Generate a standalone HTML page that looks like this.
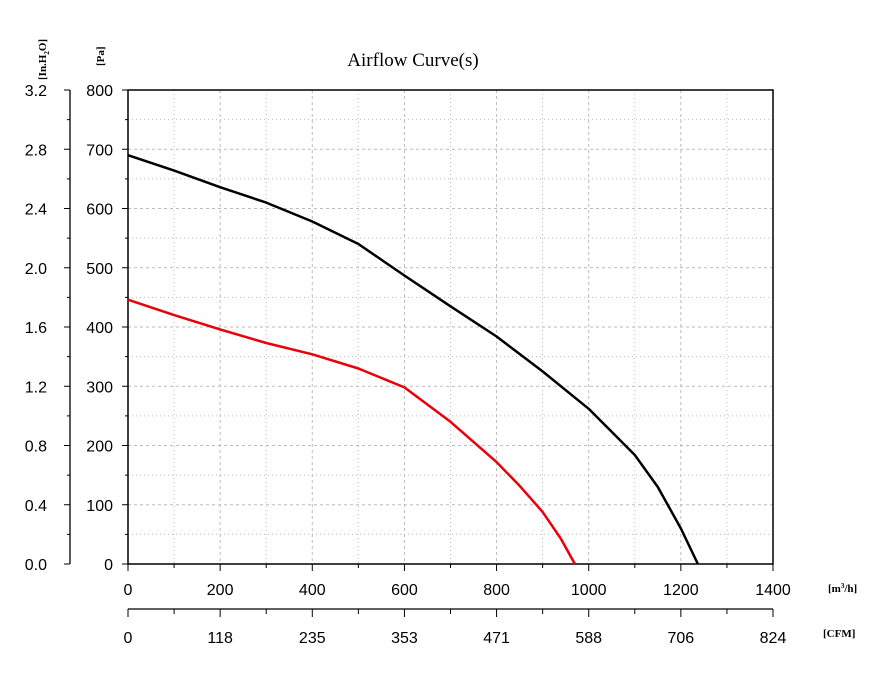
<!DOCTYPE html>
<html><head><meta charset="utf-8"><style>
body{margin:0;background:#fff;}
svg text{font-family:"Liberation Sans",sans-serif;}
</style></head><body>
<svg id="chart" width="888" height="694" xmlns="http://www.w3.org/2000/svg">
<text x="413" y="66" text-anchor="middle" font-size="19" style="font-family:'Liberation Serif',serif">Airflow Curve(s)</text>
<g id="grid"></g>
<g id="axes"></g>
<g id="series"></g>
</svg>
<script>
const xTicks=[0,200,400,600,800,1000,1200,1400];
const cfmLabels=["0","118","235","353","471","588","706","824"];
const paTicks=[0,100,200,300,400,500,600,700,800];
const inLabels=["0.0","0.4","0.8","1.2","1.6","2.0","2.4","2.8","3.2"];
const blackX=[0,100,200,300,400,500,600,700,800,900,1000,1100,1150,1200,1237];
const blackY=[690,664,636,610,578,540,487,435,384,325,262,184,130,60,0];
const redX=[0,100,200,300,400,500,600,700,800,850,900,940,970];
const redY=[446,420,396,373,354,330,298,240,172,132,88,42,0];
const L=128,R=773,T=90,B=564;
const sx=v=>L+(v/1400)*(R-L), sy=v=>B-(v/800)*(B-T);
const NS="http://www.w3.org/2000/svg";
function mk(tag,attrs,parent){const e=document.createElementNS(NS,tag);for(const k in attrs)e.setAttribute(k,attrs[k]);parent.appendChild(e);return e;}
const grid=document.getElementById('grid'),axes=document.getElementById('axes'),series=document.getElementById('series');
for(let v=100;v<1400;v+=100){const g=mk('line',{x1:sx(v),x2:sx(v),y1:T,y2:B,stroke:'#bbb','stroke-width':1,'stroke-dasharray':v%200?'1,3':'3,3'},grid);

}
for(let v=50;v<800;v+=50){const g=mk('line',{x1:L,x2:R,y1:sy(v),y2:sy(v),stroke:'#bbb','stroke-width':1,'stroke-dasharray':v%100?'1,3':'3,3'},grid);

}
const fr=mk('rect',{x:L,y:T,width:R-L,height:B-T,fill:'none',stroke:'#000','stroke-width':1.5},axes);


// left inH2O axis
mk('line',{x1:70,x2:70,y1:T,y2:B,stroke:'#000','stroke-width':1.3},axes);
for(let i=0;i<paTicks.length;i++){const y=sy(paTicks[i]);
mk('line',{x1:64,x2:70,y1:y,y2:y,stroke:'#000'},axes);
mk('line',{x1:122,x2:128,y1:y,y2:y,stroke:'#000'},axes);
if(i<paTicks.length-1){const ym=sy(paTicks[i]+50);mk('line',{x1:67,x2:70,y1:ym,y2:ym,stroke:'#000'},axes);mk('line',{x1:125,x2:128,y1:ym,y2:ym,stroke:'#000'},axes);}
const t1=mk('text',{x:47,y:y+6,'text-anchor':'end','font-size':16},axes);t1.textContent=inLabels[i];


const t2=mk('text',{x:113,y:y+6,'text-anchor':'end','font-size':16},axes);t2.textContent=paTicks[i];

}
// bottom axes
const B2=609;
mk('line',{x1:L,x2:R,y1:B2,y2:B2,stroke:'#000','stroke-width':1.3},axes);
for(let i=0;i<xTicks.length;i++){const x=sx(xTicks[i]);
mk('line',{x1:x,x2:x,y1:B,y2:B+7,stroke:'#000'},axes);
mk('line',{x1:x,x2:x,y1:B2,y2:B2+8,stroke:'#000'},axes);
if(i<xTicks.length-1){const xm=sx(xTicks[i]+100);mk('line',{x1:xm,x2:xm,y1:B,y2:B+4,stroke:'#000'},axes);mk('line',{x1:xm,x2:xm,y1:B2,y2:B2+5,stroke:'#000'},axes);}
const t1=mk('text',{x:x,y:B+31,'text-anchor':'middle','font-size':16},axes);t1.textContent=xTicks[i];


const t2=mk('text',{x:x,y:B2+34,'text-anchor':'middle','font-size':16},axes);t2.textContent=cfmLabels[i];

}
function unit(txt,x,y,rot,name){const t=mk('text',{x:x,y:y,'font-size':11,'font-weight':'bold',style:"font-family:'Liberation Serif',serif",transform:rot?`rotate(-90 ${x} ${y})`:''},axes);t.innerHTML=txt;

}
unit('[m<tspan font-size="7" dy="-4">3</tspan><tspan dy="4">/h]</tspan>',828,592,false,'m3h-unit');
unit('[CFM]',823,637,false,'cfm-unit');
unit('[Pa]',104,66,true,'pa-unit');
unit('[In.H<tspan font-size="7" dy="3">2</tspan><tspan dy="-3">O]</tspan>',46,80,true,'inh2o-unit');
function path(xs,ys,col,name){let d='';for(let i=0;i<xs.length;i++)d+=(i?'L':'M')+sx(xs[i]).toFixed(1)+','+sy(ys[i]).toFixed(1);
const p=mk('path',{d:d,fill:'none',stroke:col,'stroke-width':2.5,'stroke-linejoin':'round'},series);

}
path(blackX,blackY,'#000','black-curve');
path(redX,redY,'#e8000b','red-curve');
</script>
</body></html>
